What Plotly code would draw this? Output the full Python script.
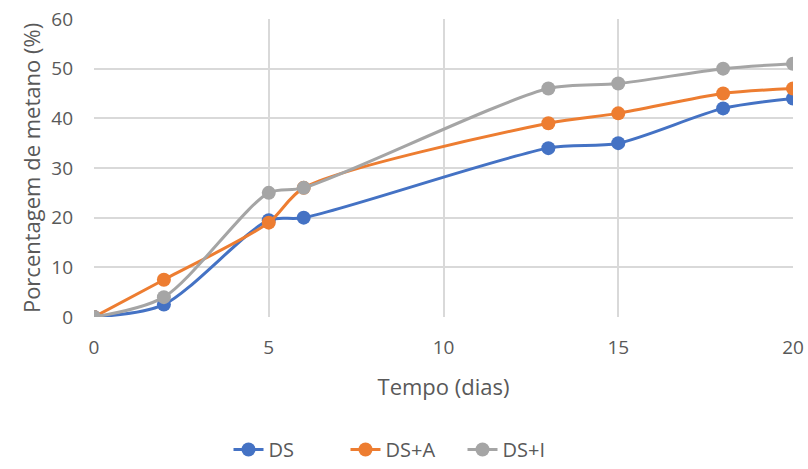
import plotly.graph_objects as go

dias = [0, 2, 5, 6, 13, 15, 18, 20]
ds = [0, 2.5, 19.5, 20, 34, 35, 42, 44]
ds_a = [0, 7.5, 19, 26, 39, 41, 45, 46]
ds_i = [0, 4, 25, 26, 46, 47, 50, 51]

series = [("DS", ds, "#4472C4"), ("DS+A", ds_a, "#ED7D31"), ("DS+I", ds_i, "#A5A5A5")]

fig = go.Figure()
for name, vals, col in series:
    fig.add_trace(go.Scatter(
        x=dias, y=vals, name=name, mode="lines+markers",
        line=dict(color=col, width=3, shape="spline", smoothing=0.8),
        marker=dict(color=col, size=14),
    ))

font_family = "Open Sans, Liberation Sans, sans-serif"
fig.update_layout(
    width=808, height=469,
    margin=dict(l=94, r=15, t=19, b=152, autoexpand=False),
    paper_bgcolor="white", plot_bgcolor="white",
    font=dict(family=font_family, color="#595959", size=18),
    showlegend=True,
    legend=dict(orientation="h", x=0.5, xanchor="center", xref="container",
                y=-0.008, yanchor="bottom", yref="container",
                font=dict(size=20, color="#595959"), traceorder="normal",
                entrywidth=72, entrywidthmode="pixels"),
    xaxis=dict(range=[0, 20], tickvals=[0, 5, 10, 15, 20], showgrid=True,
               gridcolor="#D9D9D9", gridwidth=1.5, zeroline=False, showline=False,
               automargin=False,
               ticklabelstandoff=17, tickfont=dict(size=19),
               title=dict(text="Tempo (dias)", font=dict(size=22), standoff=20)),
    yaxis=dict(range=[0, 60], tickvals=[0, 10, 20, 30, 40, 50, 60], showgrid=True,
               gridcolor="#D9D9D9", gridwidth=1.5, zeroline=False, showline=False,
               automargin=False,
               ticklabelstandoff=20, tickfont=dict(size=19),
               title=dict(text="Porcentagem de metano (%)", font=dict(size=22), standoff=4)),
)
fig.write_html("out.html")
